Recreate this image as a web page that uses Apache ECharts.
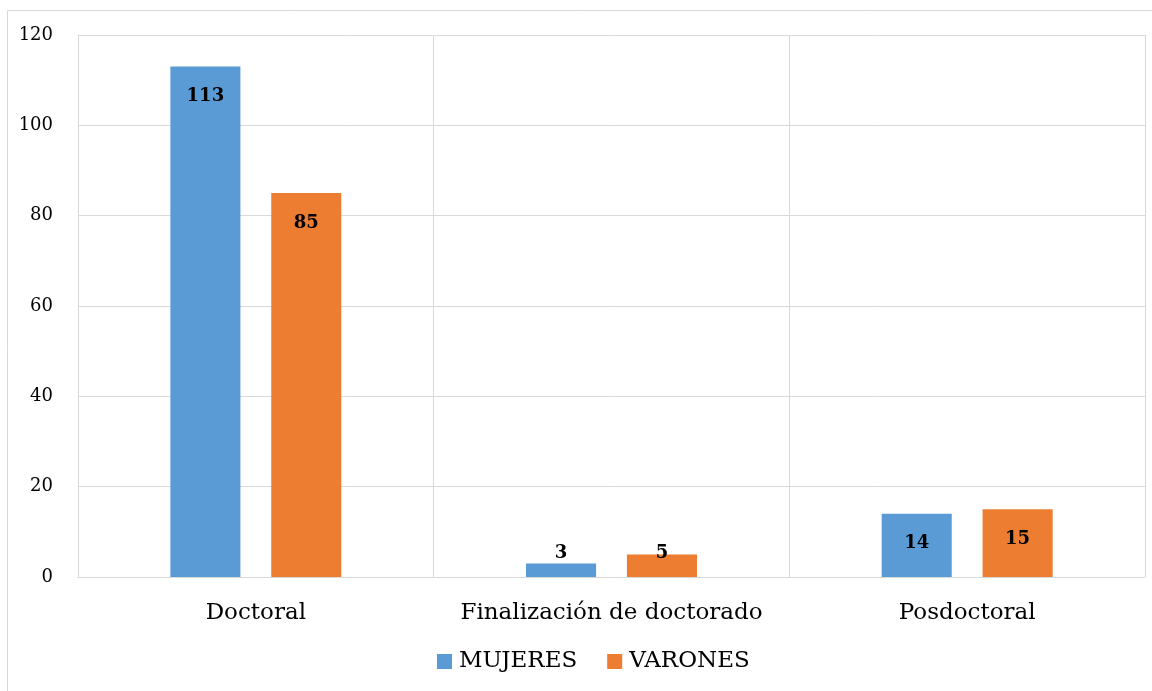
<!DOCTYPE html>
<html><head><meta charset="utf-8">
<script src="https://cdn.jsdelivr.net/npm/echarts@6/dist/echarts.min.js"></script>
<style>html,body{margin:0;padding:0;background:#fff}#c{width:1152px;height:691px}</style>
</head><body><div id="c"></div>
<script>
const categories = ['Doctoral', 'Finalización de doctorado', 'Posdoctoral'];
const mujeres = [113, 3, 14];
const varones = [85, 5, 15];
const yTicks = [0, 20, 40, 60, 80, 100, 120];

const FONT = 'DejaVu Serif';
function withLabels(vals) {
  return vals.map(v => ({
    value: v,
    label: v < 10 ? { position: 'insideBottom', distance: 15 } : { position: 'insideTop', distance: 21 }
  }));
}
const chart = echarts.init(document.getElementById('c'));
chart.setOption({
  animation: false,
  textStyle: { fontFamily: FONT },
  graphic: [{
    type: 'rect', shape: { x: 7.5, y: 10.5, width: 1170, height: 700 },
    style: { fill: 'none', stroke: '#d9d9d9', lineWidth: 1 }, silent: true, z: -1
  }],
  grid: { left: 78, right: 7, top: 35, bottom: 114, containLabel: false },
  legend: {
    bottom: 13, left: 432, itemWidth: 15, itemHeight: 15, itemGap: 30,
    icon: 'rect',
    textStyle: { fontFamily: FONT, fontSize: 23, color: '#000', padding: [0, 0, 0, 2] },
    data: ['MUJERES', 'VARONES']
  },
  xAxis: {
    type: 'category', data: categories,
    axisLine: { lineStyle: { color: '#d9d9d9' } },
    axisTick: { show: false },
    axisLabel: { color: '#000', fontFamily: FONT, fontSize: 23, margin: 25, interval: 0 },
    splitLine: { show: true, interval: 0, lineStyle: { color: '#d9d9d9' } }
  },
  yAxis: {
    type: 'value', min: yTicks[0], max: yTicks[yTicks.length - 1], interval: 20,
    axisLine: { show: true, lineStyle: { color: '#d9d9d9' } },
    axisTick: { show: false },
    axisLabel: { color: '#000', fontFamily: FONT, fontSize: 18, margin: 25 },
    splitLine: { lineStyle: { color: '#d9d9d9' } }
  },
  series: [
    {
      name: 'MUJERES', type: 'bar', data: withLabels(mujeres),
      itemStyle: { color: '#5B9BD5' }, barWidth: '19.7%', barGap: '44%',
      label: { show: true, color: '#000', fontWeight: 'bold', fontFamily: FONT, fontSize: 18 }
    },
    {
      name: 'VARONES', type: 'bar', data: withLabels(varones),
      itemStyle: { color: '#ED7D31' }, barWidth: '19.7%',
      label: { show: true, color: '#000', fontWeight: 'bold', fontFamily: FONT, fontSize: 18 }
    }
  ]
});
</script></body></html>
